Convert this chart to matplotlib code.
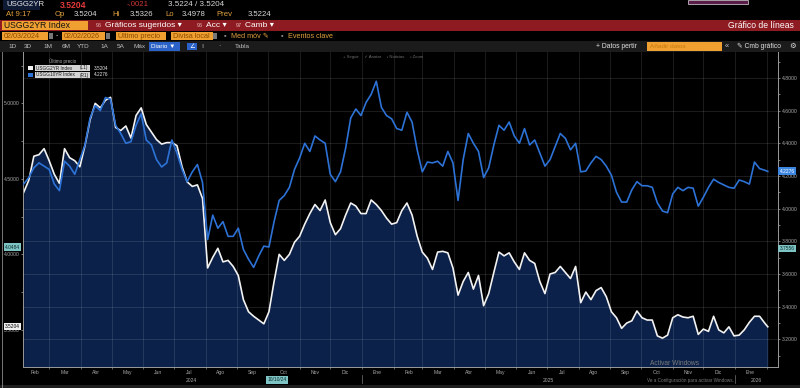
import numpy as np
import pandas as pd
import matplotlib
matplotlib.use("Agg")
import matplotlib.pyplot as plt
import matplotlib.dates as mdates
from matplotlib.ticker import MultipleLocator, FormatStrFormatter, FuncFormatter, NullFormatter
from matplotlib.patches import Rectangle

plt.rcParams['font.family'] = ['Liberation Sans', 'DejaVu Sans']

W, H = 800, 388

# --- data: one reading every 5 days + last print ---
dates = list(pd.date_range("2024-02-05", periods=146, freq="5D")) + [pd.Timestamp("2026-02-02")]

us2y = [4.41, 4.49, 4.65, 4.66, 4.70, 4.62, 4.53, 4.47, 4.70, 4.64,
        4.62, 4.58, 4.72, 4.89, 5.00, 4.97, 5.02, 5.04, 4.84, 4.82,
        4.85, 4.77, 4.92, 4.97, 4.86, 4.81, 4.76, 4.73, 4.74, 4.74,
        4.72, 4.58, 4.48, 4.45, 4.46, 4.37, 3.91, 3.98, 4.04, 3.95,
        3.96, 3.92, 3.86, 3.70, 3.62, 3.59, 3.565, 3.54, 3.62, 3.82,
        4.00, 3.96, 4.00, 4.08, 4.12, 4.20, 4.27, 4.33, 4.29, 4.36,
        4.21, 4.13, 4.17, 4.26, 4.34, 4.32, 4.27, 4.27, 4.36, 4.33,
        4.29, 4.24, 4.20, 4.21, 4.29, 4.34, 4.26, 4.12, 4.015, 3.975,
        3.90, 4.015, 4.02, 4.01, 3.91, 3.73, 3.82, 3.88, 3.77, 3.86,
        3.66, 3.74, 3.88, 4.015, 3.99, 4.01, 3.95, 3.90, 4.01, 3.96,
        3.94, 3.82, 3.74, 3.87, 3.88, 3.92, 3.88, 3.84, 3.92, 3.68,
        3.75, 3.70, 3.76, 3.78, 3.72, 3.62, 3.58, 3.51, 3.545, 3.56,
        3.625, 3.58, 3.565, 3.565, 3.46, 3.445, 3.465, 3.58, 3.60, 3.585,
        3.58, 3.59, 3.47, 3.505, 3.49, 3.59, 3.50, 3.48, 3.52, 3.46,
        3.465, 3.50, 3.55, 3.59, 3.59, 3.545, 3.5204]

us10y = [4.15, 4.19, 4.25, 4.28, 4.26, 4.24, 4.15, 4.11, 4.29, 4.26,
         4.21, 4.30, 4.39, 4.555, 4.63, 4.60, 4.68, 4.67, 4.51, 4.46,
         4.40, 4.41, 4.51, 4.58, 4.42, 4.39, 4.30, 4.255, 4.28, 4.42,
         4.34, 4.24, 4.165, 4.225, 4.27, 4.16, 3.81, 3.96, 3.88, 3.92,
         3.83, 3.83, 3.88, 3.75, 3.69, 3.64, 3.71, 3.77, 3.765, 3.92,
         4.05, 4.08, 4.13, 4.24, 4.31, 4.40, 4.35, 4.445, 4.42, 4.40,
         4.21, 4.165, 4.225, 4.37, 4.555, 4.61, 4.57, 4.65, 4.70, 4.78,
         4.62, 4.57, 4.55, 4.49, 4.48, 4.59, 4.53, 4.36, 4.225, 4.285,
         4.28, 4.29, 4.26, 4.35, 4.28, 4.05, 4.30, 4.46, 4.40, 4.35,
         4.19, 4.25, 4.39, 4.51, 4.48, 4.53, 4.445, 4.40, 4.49, 4.39,
         4.42, 4.34, 4.26, 4.30, 4.38, 4.46, 4.43, 4.36, 4.40, 4.225,
         4.23, 4.28, 4.32, 4.30, 4.26, 4.205, 4.10, 4.04, 4.04, 4.115,
         4.165, 4.14, 4.14, 4.13, 4.035, 3.985, 3.975, 4.09, 4.13, 4.11,
         4.13, 4.125, 4.015, 4.07, 4.13, 4.18, 4.16, 4.145, 4.13, 4.125,
         4.175, 4.165, 4.15, 4.285, 4.245, 4.235, 4.2276]

meses = ["Ene", "Feb", "Mar", "Abr", "May", "Jun", "Jul", "Ago", "Sep", "Oct", "Nov", "Dic"]
years = [("2024", "2024-07-18"), ("2025", "2025-07-02"), ("2026", "2026-01-22")]

ORANGE = '#f0a030'
GRAY = '#a8a8a8'

fig = plt.figure(figsize=(8, 3.88), dpi=100, facecolor='black')


def t(x, y, s, color='#d8d8d8', size=5, **kw):
    fig.text(x / W, 1 - y / H, s, color=color, fontsize=size, va='center', ha=kw.pop('ha', 'left'), **kw)


def box(x0, y0, x1, y1, color, **kw):
    fig.add_artist(Rectangle((x0 / W, 1 - y1 / H), (x1 - x0) / W, (y1 - y0) / H,
                             transform=fig.transFigure, facecolor=color, lw=kw.pop('lw', 0), **kw))


# === main chart ===
ax = fig.add_axes([23 / W, 1 - 367 / H, (778 - 23) / W, (367 - 52) / H])
ax.set_facecolor('black')
ax.fill_between(dates, us2y, 3.0, color='#0b2149', lw=0)
ax.plot(dates, us2y, color='#f2f2f2', lw=1.2)
ax.set_ylim(3.254, 5.340)
ax.set_xlim(pd.Timestamp("2024-02-04 09:00"), pd.Timestamp("2026-02-12"))

ax2 = ax.twinx()
ax2.plot(dates, us10y, color='#2d72d6', lw=1.2)
ax2.set_ylim(3.030, 4.959)

# grid
ax.grid(axis='x', which='major', color='white', alpha=0.13, lw=0.6)
ax2.grid(axis='y', which='major', color='white', alpha=0.13, lw=0.6)

# x axis: month boundaries + month names mid-month
ax.xaxis.set_major_locator(mdates.MonthLocator())
ax.xaxis.set_major_formatter(NullFormatter())
ax.xaxis.set_minor_locator(mdates.MonthLocator(bymonthday=16))
ax.xaxis.set_minor_formatter(FuncFormatter(lambda v, p: meses[mdates.num2date(v).month - 1]))
ax.tick_params(axis='x', which='major', length=1.5, color='#888888', width=0.5)
ax.tick_params(axis='x', which='minor', length=0, labelsize=3.6, labelcolor=GRAY, pad=2)
for lab, d in years:
    ax.text(pd.Timestamp(d), -0.043, lab, transform=ax.get_xaxis_transform(),
            ha='center', va='center', fontsize=3.6, color=GRAY)
for d in ["2025-01-01", "2026-01-01"]:
    ax.plot([pd.Timestamp(d)] * 2, [-0.025, -0.05], transform=ax.get_xaxis_transform(),
            clip_on=False, color='#777777', lw=0.5)

# left axis (2YR)
ax.yaxis.set_major_locator(MultipleLocator(0.5))
ax.yaxis.set_minor_locator(MultipleLocator(0.25))
ax.yaxis.set_major_formatter(FormatStrFormatter('%.4f'))
ax.tick_params(axis='y', which='both', length=1.5, color='#aaaaaa', width=0.5,
               labelsize=3.7, labelcolor=GRAY, pad=1)

# right axis (10YR)
ax2.yaxis.set_major_locator(MultipleLocator(0.2))
ax2.yaxis.set_minor_locator(MultipleLocator(0.1))
ax2.yaxis.set_major_formatter(FormatStrFormatter('%.4f'))
ax2.tick_params(axis='y', which='both', length=1.5, color='#aaaaaa', width=0.5,
                labelsize=3.7, labelcolor=GRAY, pad=1.5)

for a in (ax, ax2):
    for s in a.spines.values():
        s.set_visible(False)
ax.spines['left'].set_visible(True)
ax.spines['bottom'].set_visible(True)
ax2.spines['right'].set_visible(True)
for s in (ax.spines['left'], ax.spines['bottom'], ax2.spines['right']):
    s.set_color('#9a9a9a')
    s.set_linewidth(0.7)

# last value / crosshair boxes
ax.text(-0.004, us2y[-1], "%.4f" % us2y[-1], transform=ax.get_yaxis_transform(), ha='right', va='center',
        fontsize=3.5, color='black', bbox=dict(boxstyle='square,pad=0.25', fc='#f0f0f0', ec='none'))
ax.text(-0.004, 4.048, "4.0484", transform=ax.get_yaxis_transform(), ha='right', va='center',
        fontsize=3.5, color='#0a2a2a', bbox=dict(boxstyle='square,pad=0.25', fc='#7fc4c4', ec='none'))
ax2.text(1.002, us10y[-1], "%.4f" % us10y[-1], transform=ax2.get_yaxis_transform(), ha='left', va='center',
         fontsize=3.5, color='white', bbox=dict(boxstyle='square,pad=0.3', fc='#3d86e0', ec='none'))
ax2.text(1.002, 3.756, "3.7556", transform=ax2.get_yaxis_transform(), ha='left', va='center',
         fontsize=3.5, color='#0a2a2a', bbox=dict(boxstyle='square,pad=0.25', fc='#7fc4c4', ec='none'))
ax.text(pd.Timestamp("2024-10-10"), -0.041, "10/10/24", transform=ax.get_xaxis_transform(), ha='center',
        va='center', fontsize=3.5, color='#0a2a2a', bbox=dict(boxstyle='square,pad=0.25', fc='#7fc4c4', ec='none'))

# legend
t(63, 61, "Último precio", GRAY, 3.3, ha='center')
for yy, col, name, tag, val in [(68, '#f2f2f2', "USGG2YR Index", "(L1)", us2y[-1]),
                                (75, '#2d72d6', "USGG10YR Index", "(R1)", us10y[-1])]:
    box(28.5, yy - 2.3, 33, yy + 2.3, col)
    box(35, yy - 2.6, 90, yy + 2.6, '#d4d4d4')
    t(36, yy, name, '#1a1a1a', 3.4)
    t(80, yy, tag, '#1a1a1a', 3.4)
    t(94, yy, "%.4f" % val, '#e6e6e6', 3.4)

t(343, 57, "+ Seguir     ✓ Anotar     ▫ Noticias     ▫ Zoom", '#707070', 3.1)

# === header ===
box(3, 0.5, 40, 9.5, '#0e1a33')
t(6, 5, "USGG2YR", '#e8e8e8', 5.6)
t(60, 5, "3.5204", '#e53a3a', 6.2, weight='bold')
t(127, 5, "-.0021", '#d03535', 5.6)
t(168, 5, "3.5224 / 3.5204", '#d8d8d8', 5.8)
box(688, 0, 748, 4, '#5a1d4a', edgecolor='#dddddd', lw=0.5)

amber = '#e0a040'
t(6, 15, "At 9:17", amber, 5.6)
for lx, lab, vx, val in [(55, "Op", 74, "3.5204"), (112, "Hi", 130, "3.5326"),
                         (165, "Lo", 182, "3.4978"), (216, "Prev", 248, "3.5224")]:
    t(lx, 15, lab, amber, 5.6)
    t(vx, 15, val, '#d8d8d8', 5.6)

box(0, 20.5, 800, 31, '#8e1b22')
box(2, 21.3, 88, 30.2, ORANGE)
t(4, 25.8, "USGG2YR Index", '#111111', 6.2)
t(96, 25.8, "96", '#e8c0c0', 4.0)
t(105, 25.8, "Gráficos sugeridos ▾", 'white', 6.0)
t(197, 25.8, "96", '#e8c0c0', 4.0)
t(206, 25.8, "Acc ▾", 'white', 6.0)
t(236, 25.8, "97", '#e8c0c0', 4.0)
t(245, 25.8, "Camb ▾", 'white', 6.0)
t(794, 25.8, "Gráfico de líneas", 'white', 6.2, ha='right')

for x0, x1, lab in [(2, 48, "02/03/2024"), (62, 105, "02/02/2026"),
                    (116, 166, "Último precio"), (171, 213, "Divisa local")]:
    box(x0, 31.8, x1, 40.3, ORANGE)
    t(x0 + 2, 36, lab, '#8a4b00', 5.2)
box(49, 33, 53, 39, '#777777')
box(106, 33, 110, 39, '#777777')
box(213.5, 33, 217, 39, '#777777')
t(56, 36, "-", '#d8d8d8', 5.2)
t(224, 36, "▪", '#888888', 5.2)
t(231, 36, "Med móv ✎", amber, 5.2)
t(281, 36, "▪", '#888888', 5.2)
t(288, 36, "Eventos clave", amber, 5.2)

box(0, 41.5, 800, 51.5, '#1b1b1b')
for x, lab in [(8, "1D"), (24, "3D"), (43, "1M"), (62, "6M"), (77, "YTD"),
               (100, "1A"), (117, "5A"), (133, "Máx")]:
    t(x, 46.5, lab, '#bdbdbd', 4.6)
box(149, 42.5, 180, 50.5, '#2a62c8')
t(151, 46.5, "Diario ▼", 'white', 4.6)
box(187, 43, 197, 50, '#2a62c8')
t(189, 46.5, "∠", 'white', 4.6)
t(201, 46.5, "⁞⁞", '#bdbdbd', 4.6)
t(218, 46.5, "·", '#bdbdbd', 5)
t(235, 46.5, "Tabla", '#bdbdbd', 4.6)
t(596, 46.5, "+ Datos pertir", '#e0e0e0', 4.9)
box(647, 42.5, 722, 50.5, ORANGE)
t(650, 46.5, "Añadir datos", '#c87a10', 4.6)
t(725, 46.5, "«", '#d0d0d0', 5.4)
t(737, 46.5, "✎ Cmb gráfico", '#e0e0e0', 4.9)
t(789, 46.5, "⚙", '#e0e0e0', 5.4)

# frame bits and bottom
fig.add_artist(plt.Line2D([1.5 / W] * 2, [0, 1 - 52 / H], transform=fig.transFigure, color='#8a8a8a', lw=0.6))
box(0, 384.5, 800, 388, '#1e1e1e')
t(650, 363.5, "Activar Windows", '#7a7a7a', 4.8)
t(647, 380.5, "Ve a Configuración para activar Windows.", '#7a7a7a', 3.3)

fig.savefig("out.png", dpi=100, facecolor='black')
